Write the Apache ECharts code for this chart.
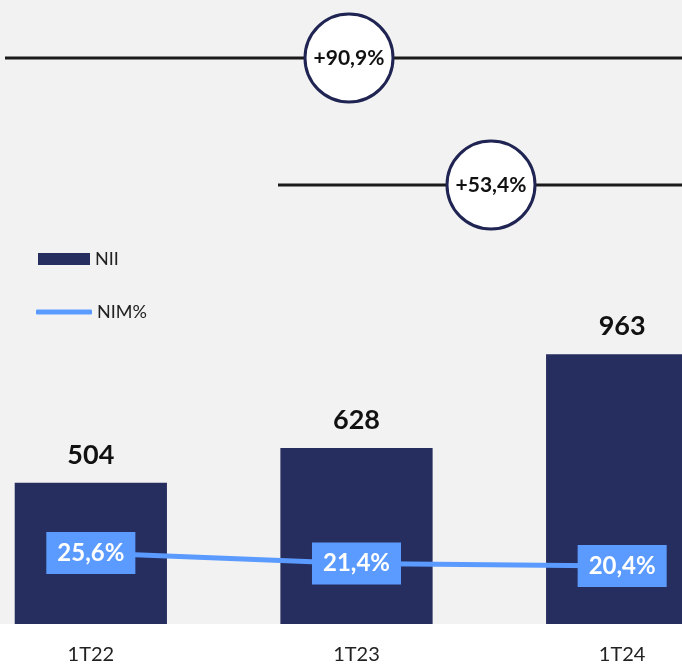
<!DOCTYPE html>
<html>
<head>
<meta charset="utf-8">
<script src="https://cdn.jsdelivr.net/npm/echarts@6/dist/echarts.min.js"></script>
<style>
  html, body { margin: 0; padding: 0; background: #ffffff; overflow: hidden; }
  #wrap { position: relative; width: 682px; height: 669px; overflow: hidden; }
  /* the category bands run past the right edge, so the canvas is wider than the view */
  #chart { position: absolute; left: -42px; top: 0; width: 797px; height: 669px; }
</style>
</head>
<body>
<div id="wrap"><div id="chart"></div></div>
<script>
// Quarterly net interest income and margin
const quarters = ['1T22', '1T23', '1T24'];
const niiValues = [504, 628, 963];
const nimValues = [25.6, 21.4, 20.4];
const growthLabels = ['+90,9%', '+53,4%'];

const NAVY = '#262d5f';
const BLUE = '#5b9bff';
const FONT = 'Lato, "Noto Sans", sans-serif';
const SHIFT = 42; // canvas offset relative to the visible area

const fmtPct = v => v.toFixed(1).replace('.', ',') + '%';

const chart = echarts.init(document.getElementById('chart'));

// growth bubble sitting on a horizontal bracket line
function bubble(cx, cy, x0, text) {
  return [
    { type: 'line', z: 10, shape: { x1: x0 + SHIFT, y1: cy, x2: 800, y2: cy },
      style: { stroke: '#1a1a1a', lineWidth: 3 } },
    { type: 'circle', z: 11, shape: { cx: cx + SHIFT, cy: cy, r: 44 },
      style: { fill: '#ffffff', stroke: '#1f2452', lineWidth: 3 } },
    { type: 'text', z: 12, x: cx + SHIFT, y: cy,
      style: { text: text, fill: '#111', font: 'bold 21px ' + FONT,
               align: 'center', verticalAlign: 'middle' } }
  ];
}

chart.setOption({
  backgroundColor: '#ffffff',
  animation: false,
  grid: {
    left: 0, right: 0, top: 0, bottom: 45,
    show: true, backgroundColor: '#f2f2f2', borderWidth: 0
  },
  legend: [
    {
      data: ['NII'], left: 33 + SHIFT, top: 245, itemWidth: 52, itemHeight: 12,
      icon: 'rect', textStyle: { fontFamily: FONT, fontSize: 18, color: '#222' }
    },
    {
      data: ['NIM%'], left: 31 + SHIFT, top: 298, itemWidth: 56, itemHeight: 5,
      icon: 'roundRect', textStyle: { fontFamily: FONT, fontSize: 18, color: '#222' }
    }
  ],
  xAxis: {
    type: 'category', data: quarters,
    axisLine: { show: false }, axisTick: { show: false },
    axisLabel: { margin: 21, fontFamily: FONT, fontSize: 20, color: '#222' }
  },
  yAxis: [
    { type: 'value', min: 0, max: 2227, show: false, splitLine: { show: false } },
    { type: 'value', min: -2.4, max: 243.3, show: false, splitLine: { show: false } }
  ],
  series: [
    {
      name: 'NII', type: 'bar', data: niiValues, barWidth: '57.3%',
      itemStyle: { color: NAVY },
      label: {
        show: true, position: 'top', distance: 14,
        fontFamily: FONT, fontWeight: 'bold', fontSize: 27, color: '#111'
      }
    },
    {
      name: 'NIM%', type: 'line', yAxisIndex: 1, data: nimValues,
      symbol: 'circle', symbolSize: 2, z: 5,
      lineStyle: { color: BLUE, width: 5 }, itemStyle: { color: BLUE },
      label: {
        show: true, position: 'inside', formatter: p => fmtPct(p.value),
        backgroundColor: BLUE, color: '#ffffff', padding: [10, 11, 8, 11],
        fontFamily: FONT, fontWeight: 'bold', fontSize: 24
      }
    }
  ],
  graphic: [
    ...bubble(349, 58, 5, growthLabels[0]),
    ...bubble(491, 185, 278, growthLabels[1])
  ]
});
</script>
</body>
</html>
